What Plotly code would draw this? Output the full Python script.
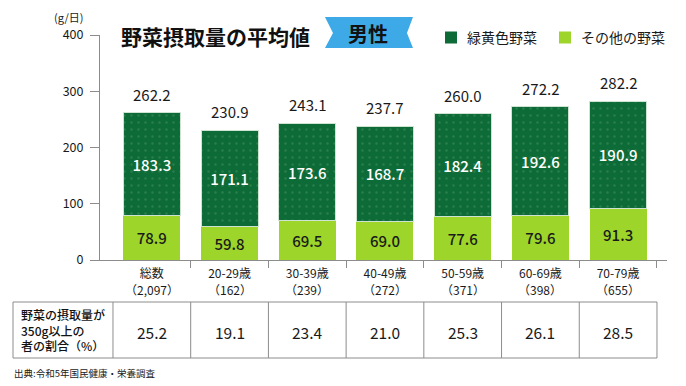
import plotly.graph_objects as go

categories = ["総数", "20-29歳", "30-39歳", "40-49歳", "50-59歳", "60-69歳", "70-79歳"]
counts = ["（2,097）", "（162）", "（239）", "（272）", "（371）", "（398）", "（655）"]
other_veg = [78.9, 59.8, 69.5, 69.0, 77.6, 79.6, 91.3]
green_yellow_veg = [183.3, 171.1, 173.6, 168.7, 182.4, 192.6, 190.9]
totals = [262.2, 230.9, 243.1, 237.7, 260.0, 272.2, 282.2]
ratio_350 = [25.2, 19.1, 23.4, 21.0, 25.3, 26.1, 28.5]
y_ticks = [0, 100, 200, 300, 400]

W, H = 686, 386
L, R, T, B = 100, 19, 35, 126
PW, PH = W - L - R, H - T - B
FONT = "Noto Sans CJK JP"
DARK = "#0d6b37"
LIGHT = "#9dd52b"
TXT = "#1a1a1a"
GRAY = "#8c8c8c"


def px(x):
    return (x - L) / PW


def py(y):
    return (H - B - y) / PH


xs = list(range(len(categories)))

fig = go.Figure()
fig.add_trace(go.Bar(
    x=xs, y=other_veg, name="その他の野菜", width=0.733,
    marker=dict(color=LIGHT, line=dict(width=0)),
    texttemplate="%{y:.1f}", textposition="inside", insidetextanchor="middle",
    textfont=dict(family=FONT, size=15, color=TXT, weight=500), textangle=0,
))
fig.add_trace(go.Bar(
    x=xs, y=green_yellow_veg, name="緑黄色野菜", width=0.733,
    marker=dict(color=DARK, line=dict(width=1, color="#cfe3d3"),
                pattern=dict(shape=".", fgcolor="rgba(200,235,200,0.3)", size=7, solidity=0.1)),
    texttemplate="%{y:.1f}", textposition="inside", insidetextanchor="middle",
    textfont=dict(family=FONT, size=15, color="white", weight=500), textangle=0,
))

annotations = []
shapes = []

# totals above bars
for i, v in enumerate(totals):
    annotations.append(dict(x=i, y=v, xref="x", yref="y", text=f"{v:.1f}", showarrow=False,
                            yanchor="bottom", yshift=6,
                            font=dict(family=FONT, size=15, color=TXT)))
# sample counts
for i, c in enumerate(counts):
    annotations.append(dict(x=i, y=py(289), xref="x", yref="paper", text=c, showarrow=False,
                            yanchor="middle", borderpad=0,
                            font=dict(family=FONT, size=12, color=TXT)))
# table values
for i, v in enumerate(ratio_350):
    annotations.append(dict(x=i, y=py(332), xref="x", yref="paper", text=f"{v:.1f}", showarrow=False,
                            yanchor="middle", font=dict(family=FONT, size=15.5, color=TXT)))
# table row header
annotations.append(dict(x=px(19), y=py(330), xref="paper", yref="paper", xanchor="left",
                        yanchor="middle", align="left", showarrow=False,
                        text="野菜の摂取量が<br>350g以上の<br>者の割合（%）",
                        font=dict(family=FONT, size=12, color="#111111", weight=500)))
# table lines
shapes.append(dict(type="line", xref="paper", yref="paper", x0=px(13), x1=px(657),
                   y0=py(302), y1=py(302), line=dict(color=GRAY, width=1)))
shapes.append(dict(type="line", xref="paper", yref="paper", x0=px(13), x1=px(657),
                   y0=py(358), y1=py(358), line=dict(color=GRAY, width=1)))
shapes.append(dict(type="line", xref="paper", yref="paper", x0=px(13), x1=px(13),
                   y0=py(302), y1=py(358), line=dict(color=GRAY, width=1)))
for i in range(len(categories) + 1):
    shapes.append(dict(type="line", xref="x", yref="paper", x0=i - 0.5, x1=i - 0.5,
                       y0=py(302), y1=py(358), line=dict(color=GRAY, width=1)))

# source
annotations.append(dict(x=px(12), y=py(373), xref="paper", yref="paper", xanchor="left",
                        yanchor="middle", showarrow=False, text="出典:令和5年国民健康・栄養調査",
                        font=dict(family=FONT, size=9.5, color=TXT)))
# unit
annotations.append(dict(x=px(69), y=py(17), xref="paper", yref="paper", xanchor="center",
                        yanchor="middle", showarrow=False, text="(g/日)", borderpad=0,
                        font=dict(family=FONT, size=11, color=TXT)))
# title
annotations.append(dict(x=px(119), y=py(36), xref="paper", yref="paper", xanchor="left",
                        yanchor="middle", showarrow=False, text="<b>野菜摂取量の平均値</b>",
                        font=dict(family=FONT, size=21, color="#111111")))
# badge
pts = [(325, 17), (413, 17), (407, 33), (413, 48), (325, 48), (333, 33)]
path = "M " + " L ".join(f"{px(a):.4f},{py(b):.4f}" for a, b in pts) + " Z"
shapes.append(dict(type="path", xref="paper", yref="paper", path=path,
                   fillcolor="#3da9e6", line=dict(width=0)))
annotations.append(dict(x=px(368), y=py(34), xref="paper", yref="paper", xanchor="center",
                        yanchor="middle", showarrow=False, text="<b>男性</b>",
                        font=dict(family=FONT, size=20, color="#111111")))
# legend (manual)
for (x0, label, col) in [(445, "緑黄色野菜", DARK), (559, "その他の野菜", LIGHT)]:
    shapes.append(dict(type="rect", xref="paper", yref="paper", x0=px(x0), x1=px(x0 + 12),
                       y0=py(43.5), y1=py(31.5), fillcolor=col, line=dict(width=0)))
    annotations.append(dict(x=px(x0 + 20), y=py(37.5), xref="paper", yref="paper", xanchor="left",
                            yanchor="middle", showarrow=False, text=label,
                            font=dict(family=FONT, size=14, color=TXT)))

fig.update_layout(
    barmode="stack",
    width=W, height=H,
    margin=dict(l=L, r=R, t=T, b=B, pad=0),
    paper_bgcolor="white", plot_bgcolor="white",
    showlegend=False,
    annotations=annotations,
    shapes=shapes,
    font=dict(family=FONT, color=TXT),
    uniformtext=dict(mode=False),
)
fig.update_xaxes(
    range=[-0.667, 6.629], tickvals=xs, ticktext=categories, ticks="",
    showline=True, linecolor=GRAY, linewidth=1, showgrid=False, zeroline=False,
    tickfont=dict(family=FONT, size=12, color=TXT), ticklabelstandoff=3,
    minor=dict(tickvals=[i + 0.5 for i in xs], ticks="outside", ticklen=7,
               tickcolor=GRAY, tickwidth=1, showgrid=False),
    fixedrange=True,
)
fig.update_yaxes(
    range=[0, 400], tickvals=y_ticks, ticks="outside", ticklen=9, tickcolor=GRAY,
    showline=True, linecolor=GRAY, linewidth=1, showgrid=False, zeroline=False,
    tickfont=dict(family=FONT, size=12.5, color=TXT), ticklabelstandoff=4,
    fixedrange=True,
)

fig.write_html("out.html", config={"displayModeBar": False},
               post_script="document.body.style.margin='0';")
